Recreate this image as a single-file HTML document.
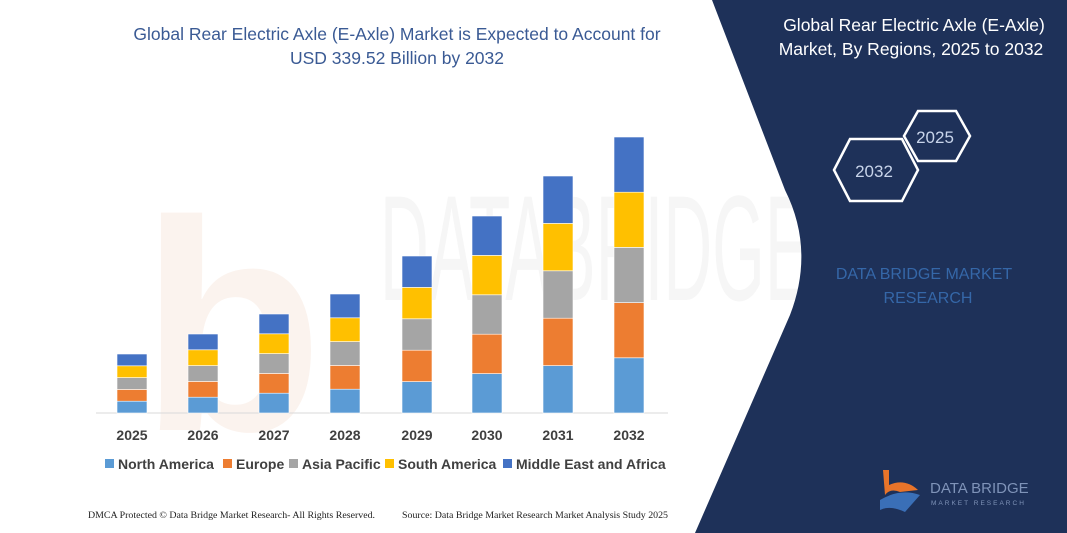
<!DOCTYPE html>
<html><head><meta charset="utf-8"><style>
body{margin:0;width:1067px;height:533px;overflow:hidden;background:#fff;font-family:"Liberation Sans",sans-serif}
</style></head><body>
<svg width="1067" height="533" xmlns="http://www.w3.org/2000/svg" style="position:absolute;left:0;top:0">
<text x="140" y="430" font-size="300" fill="#fbf3ee" font-weight="bold">b</text>
<text x="380" y="300" font-size="150" fill="#f6f6f6" textLength="430" lengthAdjust="spacingAndGlyphs">DATABRIDGE</text>
<path d="M712,0 L1067,0 L1067,533 L695,533 L790,315 Q815,250 785,190 Z" fill="#1e3159"/>
<text x="914" y="31" font-size="17.5" fill="#fff" text-anchor="middle">Global Rear Electric Axle (E-Axle)</text>
<text x="911" y="55" font-size="17.5" fill="#fff" text-anchor="middle">Market, By Regions, 2025 to 2032</text>
<polygon points="904,136 918,111 956,111 970,136 956,161 918,161" fill="none" stroke="#fff" stroke-width="2.5"/>
<polygon points="834,170 850,139 902,139 918,170 902,201 850,201" fill="none" stroke="#fff" stroke-width="2.5"/>
<text x="935" y="143" font-size="17" fill="#c8d4ea" text-anchor="middle">2025</text>
<text x="874" y="177" font-size="17" fill="#c8d4ea" text-anchor="middle">2032</text>
<text x="924" y="279" font-size="16" fill="#3567a8" text-anchor="middle">DATA BRIDGE MARKET</text>
<text x="928" y="303" font-size="16" fill="#3567a8" text-anchor="middle">RESEARCH</text>
<path d="M883,470 L889,470 L889,485 Q905,478 918,490 L900,492 Q890,488 885,495 Z" fill="#e8742a"/>
<path d="M880,500 Q900,488 920,495 L905,512 Q890,505 880,510 Z" fill="#3a6fb7"/>
<text x="930" y="493" font-size="15" fill="#7f93b8">DATA BRIDGE</text>
<text x="931" y="505" font-size="6.5" fill="#7f93b8" letter-spacing="2">MARKET RESEARCH</text>
<text x="397" y="40" font-size="17.5" fill="#3a5a94" text-anchor="middle">Global Rear Electric Axle (E-Axle) Market is Expected to Account for</text>
<text x="397" y="64" font-size="17.5" fill="#3a5a94" text-anchor="middle">USD 339.52 Billion by 2032</text>
<line x1="96" y1="413" x2="668" y2="413" stroke="#d9d9d9" stroke-width="1"/>
<g id="bars"></g>
<g font-size="14" font-weight="bold" fill="#404040" text-anchor="middle">
<text x="132" y="440">2025</text><text x="203" y="440">2026</text><text x="274" y="440">2027</text><text x="345" y="440">2028</text><text x="417" y="440">2029</text><text x="487" y="440">2030</text><text x="558" y="440">2031</text><text x="629" y="440">2032</text>
</g>
<g font-size="14" font-weight="bold" fill="#404040">
<rect x="105" y="459" width="9" height="9" fill="#5b9bd5"/><text x="118" y="469">North America</text>
<rect x="223" y="459" width="9" height="9" fill="#ed7d31"/><text x="236" y="469">Europe</text>
<rect x="289" y="459" width="9" height="9" fill="#a5a5a5"/><text x="302" y="469">Asia Pacific</text>
<rect x="385" y="459" width="9" height="9" fill="#ffc000"/><text x="398" y="469">South America</text>
<rect x="503" y="459" width="9" height="9" fill="#4472c4"/><text x="516" y="469">Middle East and Africa</text>
</g>
<text x="88" y="518" font-size="9" fill="#222" font-family="Liberation Serif" textLength="287" lengthAdjust="spacingAndGlyphs">DMCA Protected © Data Bridge Market Research-  All Rights Reserved.</text>
<text x="402" y="518" font-size="9" fill="#222" font-family="Liberation Serif" textLength="266" lengthAdjust="spacingAndGlyphs">Source:  Data Bridge Market Research  Market Analysis Study 2025</text>
</svg>
<script>
var xs=[132,203,274,345,417,487,558,629],tops=[354,334,314,294,256,216,176,137],
c=["#5b9bd5","#ed7d31","#a5a5a5","#ffc000","#4472c4"],s="";
for(var i=0;i<8;i++){var h=(413-tops[i])/5;for(var k=0;k<5;k++){var y=413-h*(k+1);
s+='<rect x="'+(xs[i]-15)+'" y="'+y+'" width="30" height="'+h+'" fill="'+c[k]+'" stroke="#fff" stroke-width="0.6"/>';}}
document.getElementById("bars").innerHTML=s;
</script>
</body></html>
